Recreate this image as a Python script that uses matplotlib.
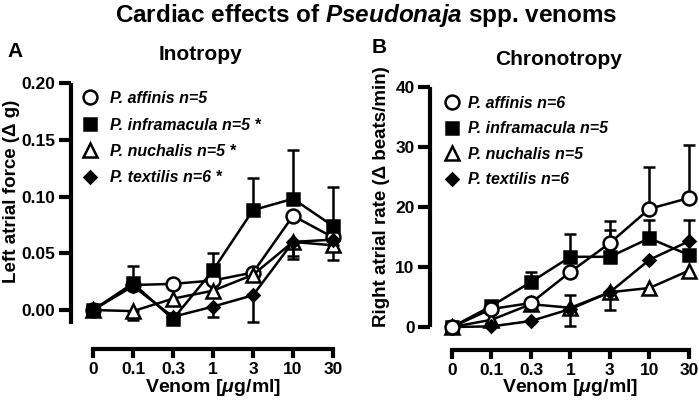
import numpy as np
import matplotlib
matplotlib.use("Agg")
import matplotlib.pyplot as plt
from matplotlib.lines import Line2D
from matplotlib.ticker import FormatStrFormatter

plt.rcParams['font.family'] = ['Liberation Sans', 'DejaVu Sans']
plt.rcParams['font.weight'] = 'bold'
plt.rcParams['mathtext.fontset'] = 'custom'
plt.rcParams['mathtext.rm'] = 'Liberation Sans:bold'
plt.rcParams['mathtext.it'] = 'Liberation Sans:italic:bold'
plt.rcParams['mathtext.bf'] = 'Liberation Sans:bold'

# ---------------- data ----------------
doses = ['0', '0.1', '0.3', '1', '3', '10', '30']

species = ['P. affinis', 'P. inframacula', 'P. nuchalis', 'P. textilis']
ino_n = ['n=5', 'n=5 *', 'n=5 *', 'n=6 *']
chrono_n = ['n=6', 'n=5', 'n=5', 'n=6']

# Inotropy (left atrial force, delta g)
ino_affinis = [0.000, 0.022, 0.023, 0.026, 0.033, 0.083, 0.064]
ino_affinis_up = [0, 0, 0, 0, 0, 0, 0]
ino_affinis_dn = [0, 0, 0, 0, 0, 0, 0]
ino_inframacula = [0.000, 0.0235, -0.008, 0.035, 0.088, 0.098, 0.074]
ino_inframacula_up = [0, 0.0155, 0, 0.015, 0.028, 0.043, 0.034]
ino_inframacula_dn = [0, 0, 0, 0, 0, 0, 0]
ino_nuchalis = [0.000, -0.001, 0.010, 0.017, 0.031, 0.060, 0.057]
ino_nuchalis_up = [0, 0, 0, 0, 0, 0, 0]
ino_nuchalis_dn = [0, 0.008, 0, 0, 0, 0.015, 0.013]
ino_textilis = [0.000, 0.021, -0.006, 0.003, 0.013, 0.060, 0.062]
ino_textilis_up = [0, 0, 0, 0, 0, 0, 0]
ino_textilis_dn = [0, 0, 0, 0.009, 0.024, 0.012, 0]

# Chronotropy (right atrial rate, delta beats/min)
chr_affinis = [0.0, 3.0, 4.0, 9.2, 14.0, 19.7, 21.5]
chr_affinis_up = [0, 0, 0, 0, 3.7, 7.0, 8.8]
chr_affinis_dn = [0, 0, 0, 0, 0, 0, 0]
chr_inframacula = [0.0, 3.5, 7.5, 11.7, 11.7, 14.8, 12.0]
chr_inframacula_up = [0, 0, 1.7, 3.8, 4.5, 3.0, 0]
chr_inframacula_dn = [0, 0, 0, 0, 0, 0, 0]
chr_nuchalis = [0.0, 1.2, 3.8, 3.2, 5.8, 6.5, 9.4]
chr_nuchalis_up = [0, 0, 0, 2.1, 0, 0, 0]
chr_nuchalis_dn = [0, 0, 0, 3.0, 3.0, 0, 0]
chr_textilis = [0.0, 0.1, 1.0, 3.0, 5.8, 11.2, 14.3]
chr_textilis_up = [0, 0, 0, 0, 0, 0, 3.5]
chr_textilis_dn = [0, 0, 0, 0, 0, 0, 0]

# ---------------- styles ----------------
styles = {
    'P. affinis': dict(marker='o', mfc='white', ms=10),
    'P. inframacula': dict(marker='s', mfc='black', ms=9),
    'P. nuchalis': dict(marker='^', mfc='white', ms=10),
    'P. textilis': dict(marker='D', mfc='black', ms=6.5),
}
LW = 1.8

fig = plt.figure(figsize=(6.99, 4.03), dpi=100)

axA = fig.add_axes([0.1009, 0.197, 0.3927, 0.597])
axB = fig.add_axes([0.6152, 0.1886, 0.376, 0.5955])

x = np.arange(len(doses))


def draw_series(ax, name, y, up, dn, z):
    y = np.asarray(y, float)
    up = np.asarray(up, float)
    dn = np.asarray(dn, float)
    st = styles[name]
    m = (up > 0) | (dn > 0)
    if m.any():
        ax.errorbar(x[m], y[m], yerr=[dn[m], up[m]], fmt='none', ecolor='black',
                    elinewidth=LW, capsize=4, capthick=LW, zorder=z, clip_on=False)
    ax.plot(x, y, color='black', lw=LW, marker=st['marker'], ms=st['ms'],
            mfc=st['mfc'], mec='black', mew=LW, zorder=z + 0.5, clip_on=False)


def style_axis(ax, xlim, ylim, yticks, fmt, x_out, ylabel, ylab_xy, xlab_xy):
    ax.set_xlim(*xlim)
    ax.set_ylim(*ylim)
    for s in ['top', 'right']:
        ax.spines[s].set_visible(False)
    ax.spines['left'].set_linewidth(3)
    ax.spines['bottom'].set_linewidth(3)
    ax.spines['left'].set_capstyle('butt')
    ax.spines['bottom'].set_capstyle('projecting')
    ax.spines['bottom'].set_position(('outward', x_out))
    ax.spines['bottom'].set_bounds(0, len(doses) - 1)
    ax.set_xticks(x)
    ax.set_xticklabels(doses)
    ax.set_yticks(yticks)
    ax.yaxis.set_major_formatter(FormatStrFormatter(fmt))
    ax.tick_params(axis='y', length=9, width=3, labelsize=12.5, pad=2)
    ax.tick_params(axis='x', length=6.5, width=3, labelsize=12.5, pad=3)
    for lab in ax.get_xticklabels() + ax.get_yticklabels():
        lab.set_fontweight('bold')
    ax.set_ylabel(ylabel, fontsize=13.5, fontweight='bold')
    ax.yaxis.set_label_coords(*ylab_xy, transform=fig.transFigure)
    ax.yaxis.label.set_va('center')
    ax.set_xlabel('Venom [$\\mathit{μ}$g/ml]', fontsize=14, fontweight='bold')
    ax.xaxis.set_label_coords(*xlab_xy, transform=fig.transFigure)
    ax.xaxis.label.set_va('center')
    ax.patch.set_visible(False)


# Panel A
draw_series(axA, 'P. affinis', ino_affinis, ino_affinis_up, ino_affinis_dn, 2)
draw_series(axA, 'P. nuchalis', ino_nuchalis, ino_nuchalis_up, ino_nuchalis_dn, 3)
draw_series(axA, 'P. textilis', ino_textilis, ino_textilis_up, ino_textilis_dn, 4)
draw_series(axA, 'P. inframacula', ino_inframacula, ino_inframacula_up, ino_inframacula_dn, 5)
style_axis(axA, (-0.5625, 6.3), (-0.012, 0.20), [0, 0.05, 0.10, 0.15, 0.20], '%.2f', 18.3,
           'Left atrial force (Δ g)', (12 / 699, 1 - 191 / 403), (213 / 699, 1 - 388 / 403))

# Panel B
draw_series(axB, 'P. inframacula', chr_inframacula, chr_inframacula_up, chr_inframacula_dn, 2)
draw_series(axB, 'P. nuchalis', chr_nuchalis, chr_nuchalis_up, chr_nuchalis_dn, 3)
draw_series(axB, 'P. textilis', chr_textilis, chr_textilis_up, chr_textilis_dn, 4)
draw_series(axB, 'P. affinis', chr_affinis, chr_affinis_up, chr_affinis_dn, 5)
style_axis(axB, (-0.557, 6.1), (0, 40), [0, 10, 20, 30, 40], '%d', 16.6,
           'Right atrial rate (Δ beats/min)', (382 / 699, 1 - 197 / 403), (570 / 699, 1 - 388 / 403))


def make_legend(ax, ns, anchor, textpad, spacing):
    handles = []
    labels = []
    for sp, n in zip(species, ns):
        st = styles[sp]
        handles.append(Line2D([], [], ls='none', marker=st['marker'], ms=st['ms'],
                              mfc=st['mfc'], mec='black', mew=LW))
        labels.append(f'{sp} {n}')
    leg = ax.legend(handles, labels, loc='upper left', bbox_to_anchor=anchor,
                    bbox_transform=fig.transFigure, frameon=False, borderpad=0,
                    borderaxespad=0, handlelength=1.0, handletextpad=textpad,
                    labelspacing=spacing,
                    prop=dict(family='Liberation Sans', weight='bold', style='italic', size=11.5))
    return leg


make_legend(axA, ino_n, (82 / 699, 1 - 91 / 403), 0.75, 0.72)
make_legend(axB, chrono_n, (444 / 699, 1 - 96 / 403), 0.5, 0.65)

# titles
fig.text(366.5 / 699, 1 - 22 / 403, 'Cardiac effects of $\\mathit{Pseudonaja}$ spp. venoms',
         ha='center', va='baseline', fontsize=17.5, fontweight='bold')
fig.text(7 / 699, 1 - 57 / 403, 'A', ha='left', va='baseline', fontsize=15, fontweight='bold')
fig.text(372 / 699, 1 - 53 / 403, 'B', ha='left', va='baseline', fontsize=15, fontweight='bold')
fig.text(201 / 699, 1 - 60 / 403, 'Inotropy', ha='center', va='baseline', fontsize=15, fontweight='bold')
fig.text(559 / 699, 1 - 65 / 403, 'Chronotropy', ha='center', va='baseline', fontsize=15, fontweight='bold')

fig.savefig('out.png', dpi=100)
